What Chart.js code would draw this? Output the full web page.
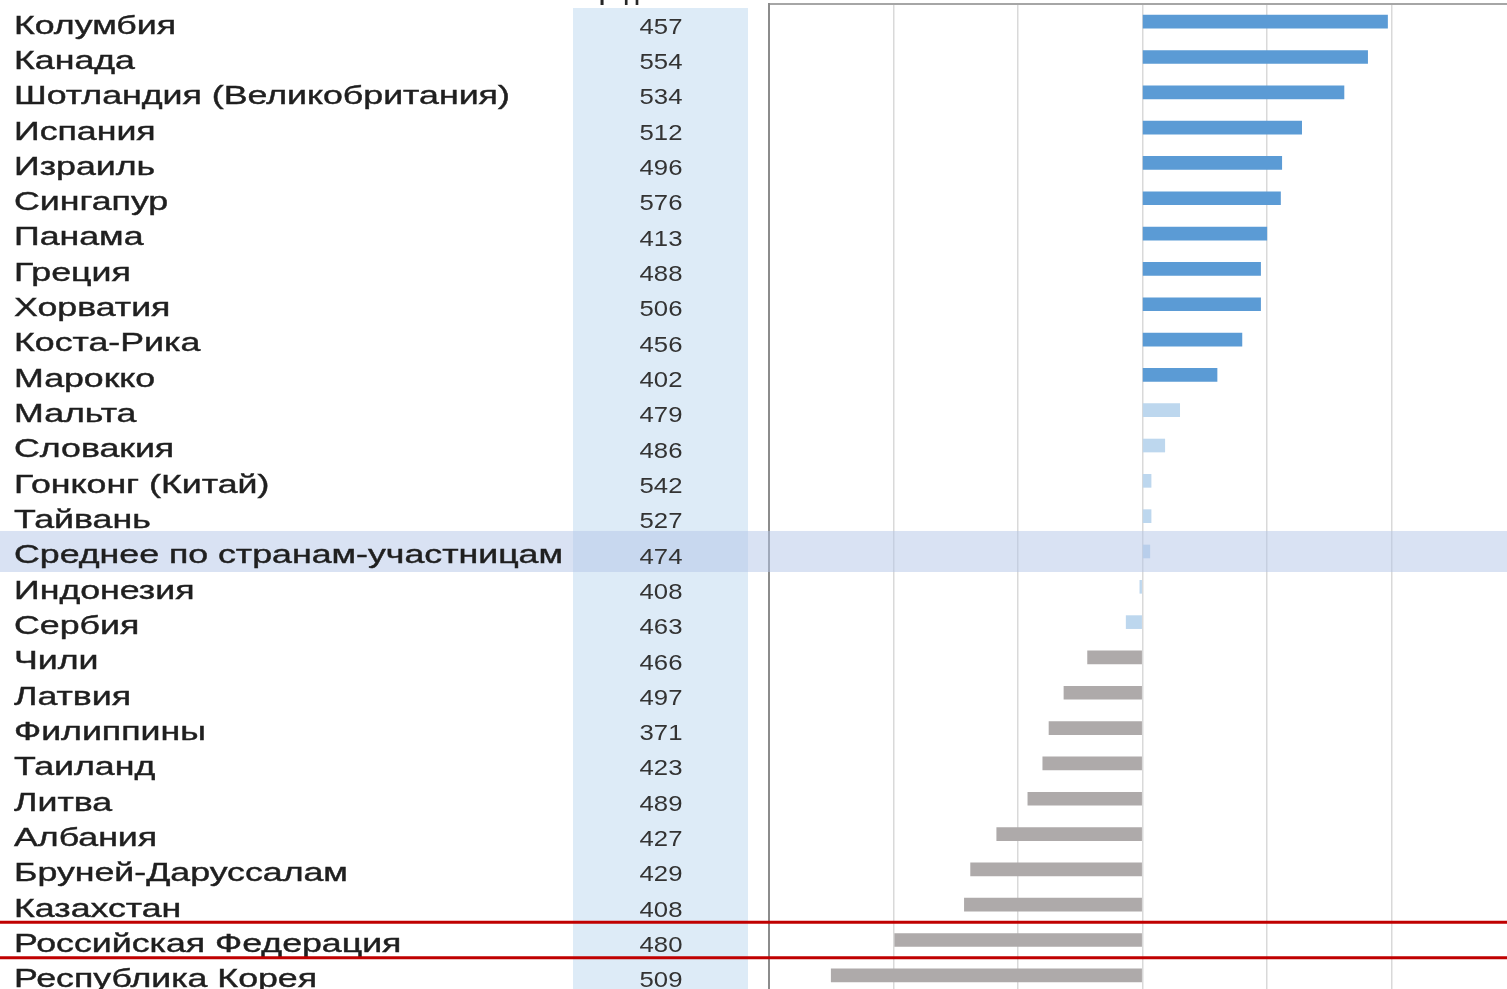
<!DOCTYPE html>
<html>
<head>
<meta charset="utf-8">
<script src="https://cdn.jsdelivr.net/npm/chart.js@4.4.1/dist/chart.umd.min.js"></script>
<style>
html,body{margin:0;padding:0;background:#fff;overflow:hidden}
#c{position:absolute;left:0;top:0}
</style>
</head>
<body>
<canvas id="c" width="1507" height="993"></canvas>
<script>

let countries=["Колумбия","Канада","Шотландия (Великобритания)","Испания","Израиль","Сингапур","Панама","Греция","Хорватия","Коста-Рика","Марокко","Мальта","Словакия","Гонконг (Китай)","Тайвань","Среднее по странам-участницам","Индонезия","Сербия","Чили","Латвия","Филиппины","Таиланд","Литва","Албания","Бруней-Даруссалам","Казахстан","Российская Федерация","Республика Корея"]

let scores=[457,554,534,512,496,576,413,488,506,456,402,479,486,542,527,474,408,463,466,497,371,423,489,427,429,408,480,509]

let change=[19.7,18.1,16.2,12.8,11.2,11.1,10.0,9.5,9.5,8.0,6.0,3.0,1.8,0.7,0.7,0.6,-0.2,-1.3,-4.4,-6.3,-7.5,-8.0,-9.2,-11.7,-13.8,-14.3,-19.9,-25.0]

let signif=["up","up","up","up","up","up","up","up","up","up","up","ns","ns","ns","ns","ns","ns","ns","down","down","down","down","down","down","down","down","down","down"]

let avgRow="Среднее по странам-участницам"
let markRow="Российская Федерация"
let header="Средний балл"

let sigColors={up:"#5b9bd5",ns:"#bdd7ee",down:"#aeaaaa"}

let tablePlugin={
id:"table",
beforeDraw(chart){
let ctx=chart.ctx
ctx.save()
ctx.fillStyle="#fff"
ctx.fillRect(0,0,chart.width,chart.height)
ctx.fillStyle="#ddebf7"
ctx.fillRect(573,8,175,chart.height-8)
ctx.fillStyle="#262626"
ctx.font="bold 22px 'Liberation Sans', Arial"
ctx.textAlign="center"
ctx.textBaseline="alphabetic"
ctx.fillText(header,661,0)
ctx.restore()
},
afterDatasetsDraw(chart){
let ctx=chart.ctx
let y=chart.scales.y
let rowH=y.getPixelForValue(1)-y.getPixelForValue(0)
ctx.save()

// highlight of the average row
let ya=y.getPixelForValue(countries.indexOf(avgRow))
ctx.fillStyle="rgba(180,198,231,0.5)"
ctx.fillRect(0,ya-20.5,chart.width,41)

// country names, stretched like the source
ctx.fillStyle="#1f1f1f"
ctx.strokeStyle="#1f1f1f"
ctx.lineWidth=0.4
ctx.font="25px 'Liberation Sans', Arial"
ctx.textBaseline="middle"
ctx.textAlign="left"
let sx=549/ctx.measureText(avgRow).width
countries.forEach((name,i)=>{
let py=y.getPixelForValue(i)+5
ctx.save()
ctx.translate(14,py)
ctx.scale(sx,1)
ctx.fillText(name,0,0)
ctx.strokeText(name,0,0)
ctx.restore()
})

// score column
ctx.font="22px 'Liberation Sans', Arial"
ctx.fillStyle="#333"
scores.forEach((s,i)=>{
let py=y.getPixelForValue(i)+6
ctx.save()
ctx.translate(661,py)
ctx.scale(1.17,1)
ctx.textAlign="center"
ctx.fillText(String(s),0,0)
ctx.restore()
})

// red frame around Russia
let yr=y.getPixelForValue(countries.indexOf(markRow))
ctx.strokeStyle="#c00000"
ctx.lineWidth=3
ctx.beginPath()
ctx.moveTo(0,yr-rowH/2)
ctx.lineTo(chart.width,yr-rowH/2)
ctx.moveTo(0,yr+rowH/2)
ctx.lineTo(chart.width,yr+rowH/2)
ctx.stroke()

ctx.restore()
}
}

new Chart(document.getElementById("c"),{

type:"bar",

data:{

labels:countries,

datasets:[{

data:change,

backgroundColor:signif.map(s=>sigColors[s]),

barThickness:13,

borderWidth:0

}]

},

options:{

indexAxis:"y",

responsive:false,

animation:false,

layout:{padding:{top:4,left:0,right:0,bottom:0}},

plugins:{legend:{display:false},tooltip:{enabled:false}},

scales:{

x:{

position:"top",

min:-30,

max:29.3,

ticks:{display:false,stepSize:10},

grid:{drawTicks:false,lineWidth:1.5,color:ctx=>(ctx.tick&&ctx.tick.value%10===0)?"#d9d9d9":"rgba(0,0,0,0)"},

border:{display:true,color:"#a6a6a6",width:2}

},

y:{

ticks:{display:false},

grid:{display:false,drawTicks:false},

border:{display:true,color:"#8c8c8c",width:2},

afterFit(scale){scale.width=769}

}

}

},

plugins:[tablePlugin]

})

</script>
</body>
</html>
